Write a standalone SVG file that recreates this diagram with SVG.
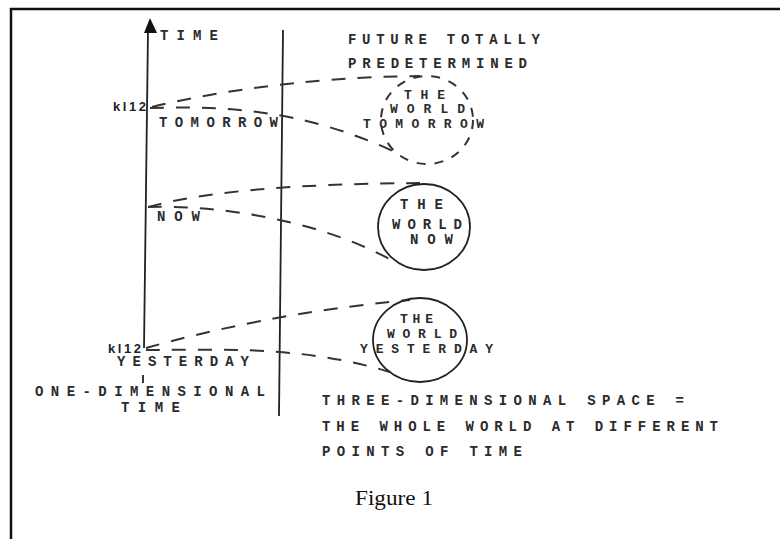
<svg xmlns="http://www.w3.org/2000/svg" width="780" height="539" viewBox="0 0 780 539">
<style>
.t{font-family:"Liberation Mono","DejaVu Sans Mono",monospace;font-size:14px;font-weight:bold;fill:#2b2b2b}
.c{font-size:13px}
.k{font-family:"Liberation Sans",Arial,sans-serif;font-size:13px;font-weight:bold;fill:#222}
.d{fill:none;stroke:#333;stroke-width:2;stroke-dasharray:14 12}
.s{fill:none;stroke:#222;stroke-width:1.8}
</style>
<rect width="780" height="539" fill="#fff"/>
<g id="frame">
<path d="M11,539 L11,9 L780,9" fill="none" stroke="#111" stroke-width="2.5"/>
</g>
<g id="axes">
<path class="s" d="M148,30 L144,348"/>
<polygon points="150,18 144,33 157,33" fill="#111"/>
<path class="s" d="M143,375 L143,383"/>
<path class="s" d="M283,30 L279,416"/>
</g>
<g id="connectors">
<path class="d" d="M152,107 C200,95 300,77 420,76"/>
<path class="d" d="M150,108 C220,106 300,108 395,152"/>
<path class="d" d="M148,207 C200,193 280,184 420,183"/>
<path class="d" d="M148,207 C220,205 320,220 395,262"/>
<path class="d" d="M146,348 C210,330 300,310 410,300"/>
<path class="d" d="M146,350 C220,350 300,345 390,372"/>
</g>
<g id="labels">
<text class="t" x="160" y="40" textLength="58" lengthAdjust="spacing">TIME</text>
<text class="t" x="348" y="44" textLength="192" lengthAdjust="spacing">FUTURE TOTALLY</text>
<text class="t" x="348" y="68" textLength="179" lengthAdjust="spacing">PREDETERMINED</text>
<text class="k" x="113" y="111" textLength="33" lengthAdjust="spacing">kl12</text>
<text class="t" x="159" y="127" textLength="119" lengthAdjust="spacing">TOMORROW</text>
<text class="t" x="157" y="221" textLength="43" lengthAdjust="spacing">NOW</text>
<text class="k" x="108" y="353" textLength="33" lengthAdjust="spacing">kl12</text>
<text class="t" x="117" y="366" textLength="132" lengthAdjust="spacing">YESTERDAY</text>
<text class="t" x="35" y="396" textLength="230" lengthAdjust="spacing">ONE-DIMENSIONAL</text>
<text class="t" x="121" y="412" textLength="59" lengthAdjust="spacing">TIME</text>
<text class="t" x="322" y="405" textLength="362" lengthAdjust="spacing">THREE-DIMENSIONAL SPACE =</text>
<text class="t" x="322" y="431" textLength="396" lengthAdjust="spacing">THE WHOLE WORLD AT DIFFERENT</text>
<text class="t" x="322" y="456" textLength="200" lengthAdjust="spacing">POINTS OF TIME</text>
<text x="355" y="505" font-family="Liberation Serif,Times New Roman,serif" font-size="22" fill="#111" textLength="78" lengthAdjust="spacingAndGlyphs">Figure 1</text>
</g>
<g id="world-tomorrow">
<ellipse cx="427" cy="120" rx="46" ry="44" fill="none" stroke="#333" stroke-width="2" stroke-dasharray="9 9"/>
<text class="t c" x="404" y="99" textLength="41" lengthAdjust="spacing">THE</text>
<text class="t c" x="390" y="113" textLength="75" lengthAdjust="spacing">WORLD</text>
<text class="t c" x="363" y="128" textLength="121" lengthAdjust="spacing">TOMORROW</text>
</g>
<g id="world-now">
<ellipse cx="424" cy="227" rx="46" ry="43" class="s"/>
<text class="t" x="400" y="209" textLength="43" lengthAdjust="spacing">THE</text>
<text class="t" x="392" y="229" textLength="70" lengthAdjust="spacing">WORLD</text>
<text class="t" x="410" y="244" textLength="43" lengthAdjust="spacing">NOW</text>
</g>
<g id="world-yesterday">
<ellipse cx="420" cy="340" rx="47" ry="42" class="s"/>
<text class="t c" x="400" y="323" textLength="33" lengthAdjust="spacing">THE</text>
<text class="t c" x="387" y="338" textLength="70" lengthAdjust="spacing">WORLD</text>
<text class="t c" x="360" y="353" textLength="133" lengthAdjust="spacing">YESTERDAY</text>
</g>
</svg>
